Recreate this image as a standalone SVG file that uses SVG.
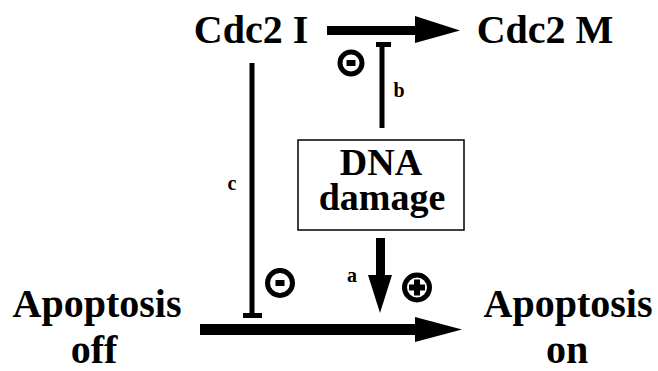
<svg xmlns="http://www.w3.org/2000/svg" width="658" height="371" viewBox="0 0 658 371">
<style>
.big{font-family:"Liberation Serif","Times New Roman",serif;font-weight:bold;font-size:40px;fill:#000;text-anchor:middle}
.dna{font-family:"Liberation Serif","Times New Roman",serif;font-weight:bold;font-size:38px;fill:#000;text-anchor:middle}
.lbl{font-family:"Liberation Serif","Times New Roman",serif;font-weight:bold;font-size:20px;fill:#000;text-anchor:middle}
.sign{fill:none;stroke:#000;stroke-width:5}
</style>
<rect width="658" height="371" fill="#fff"/>
<g id="cdc2i"><text class="big" x="251" y="43">Cdc2 I</text></g>
<g id="cdc2m"><text class="big" x="545" y="43">Cdc2 M</text></g>
<g id="dna">
<rect x="298" y="140" width="166" height="90" fill="#fff" stroke="#000" stroke-width="1.5"/>
<text class="dna" x="381" y="175">DNA</text>
<text class="dna" x="382" y="210">damage</text>
</g>
<g id="apoff"><text class="big" x="97" y="317">Apoptosis</text><text class="big" x="94" y="363">off</text></g>
<g id="apon"><text class="big" x="568" y="317">Apoptosis</text><text class="big" x="567" y="363">on</text></g>
<g id="connectors">
<rect x="327" y="26" width="90" height="9" fill="#000"/>
<polygon points="415,16 460,30.5 415,43" fill="#000"/>
<line x1="382" y1="44" x2="382" y2="128" stroke="#000" stroke-width="5"/>
<rect x="376" y="42" width="15" height="5" fill="#000"/>
<text class="lbl" x="399" y="97">b</text>
<circle class="sign" cx="351" cy="63" r="11"/>
<rect x="346.5" y="60" width="9" height="6" fill="#000"/>
<line x1="252" y1="63" x2="252" y2="315" stroke="#000" stroke-width="5"/>
<rect x="243" y="313" width="19" height="5" fill="#000"/>
<text class="lbl" x="232" y="190">c</text>
<circle class="sign" cx="280" cy="283" r="12.5"/>
<rect x="275.5" y="280" width="9" height="6" fill="#000"/>
<rect x="376" y="238" width="9" height="39" fill="#000"/>
<polygon points="368,275 392,275 380,313" fill="#000"/>
<text class="lbl" x="352" y="282">a</text>
<circle class="sign" cx="417" cy="287.5" r="12.5"/>
<rect x="409" y="284.5" width="16" height="6" fill="#000"/>
<rect x="414" y="279.5" width="6" height="16" fill="#000"/>
<rect x="200" y="324" width="217" height="11" fill="#000"/>
<polygon points="415,317 462,329.5 415,342" fill="#000"/>
</g>
</svg>
